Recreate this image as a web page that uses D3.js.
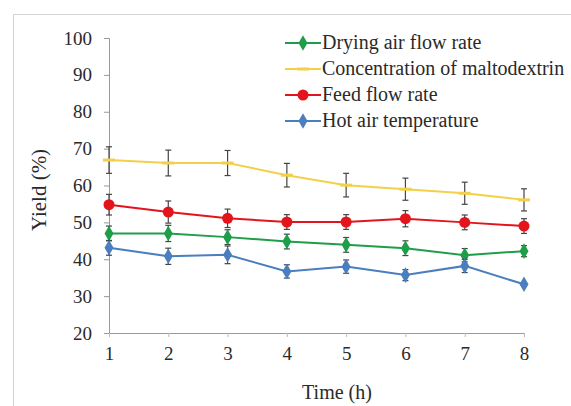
<!DOCTYPE html>
<head>
	<script src="https://d3js.org/d3.v7.min.js"></script>
</head>
<body style="margin:0">
<svg></svg>
<script>
	var hours = [1, 2, 3, 4, 5, 6, 7, 8];
	var yTicks = [20, 30, 40, 50, 60, 70, 80, 90, 100];

	var dryingAir = [47, 47, 46, 44.8, 43.9, 43, 41.1, 42.2];
	var dryingAirErr = [2, 2.2, 2, 2, 2, 2, 1.8, 1.5];
	var maltodextrin = [66.9, 66.1, 66.1, 62.8, 60.1, 59, 57.9, 56.1];
	var maltodextrinErr = [3.6, 3.5, 3.4, 3.2, 3.2, 3, 3, 3];
	var feedFlow = [54.8, 52.8, 51.1, 50.1, 50.1, 51, 50, 49];
	var feedFlowErr = [2.8, 3, 2.5, 2, 2, 2.2, 2, 2];
	var hotAir = [43.1, 40.8, 41.2, 36.7, 38, 35.7, 38.2, 33.2];
	var hotAirErr = [2, 2.2, 2.4, 1.8, 1.8, 1.5, 1.8, 0.5];

	var series = [
		{ name: "Drying air flow rate", values: dryingAir, err: dryingAirErr, color: "#1e9e48", marker: "diamond" },
		{ name: "Concentration of maltodextrin", values: maltodextrin, err: maltodextrinErr, color: "#f2d04a", marker: "dash" },
		{ name: "Feed flow rate", values: feedFlow, err: feedFlowErr, color: "#e3141c", marker: "circle" },
		{ name: "Hot air temperature", values: hotAir, err: hotAirErr, color: "#4a7ebf", marker: "diamond" }
	];

	var width = 571, height = 406;
	var serif = "Liberation Serif";
	var ink = "#2a2a2a";
	var svg = d3.select("svg").attr("width", width).attr("height", height)
		.attr("font-family", serif);

	// outer frame
	svg.append("rect")
		.attr("x", 13.5).attr("y", 14.5)
		.attr("width", 620).attr("height", 500)
		.attr("fill", "none").attr("stroke", "#d4d4d4");

	var xScale = d3.scaleLinear().domain([1, 8]).range([109, 524]);
	var yScale = d3.scaleLinear().domain([20, 100]).range([333, 38]);

	var yAxis = d3.axisLeft(yScale).tickValues(yTicks).tickSize(5).tickPadding(12);
	var gy = svg.append("g").attr("transform", "translate(109,0)").call(yAxis)
		.attr("font-family", serif).attr("font-size", 19);
	gy.select(".domain").attr("stroke", "#999");
	gy.selectAll(".tick line").attr("stroke", "#999");
	gy.selectAll("text").style("font-family", serif).attr("fill", ink);

	var xAxis = d3.axisBottom(xScale).tickValues(hours).tickFormat(d3.format("d"))
		.tickSize(4).tickPadding(10).tickSizeOuter(0);
	var gx = svg.append("g").attr("transform", "translate(0,333)").call(xAxis)
		.attr("font-family", serif).attr("font-size", 19);
	gx.select(".domain").attr("stroke", "#999");
	gx.selectAll(".tick line").attr("stroke", "#bbb");
	gx.selectAll("text").style("font-family", serif).attr("fill", ink);

	svg.append("text")
		.attr("x", 337).attr("y", 399)
		.attr("text-anchor", "middle")
		.style("font-family", serif).attr("font-size", 20).attr("fill", ink)
		.text("Time (h)");

	svg.append("text")
		.attr("transform", "translate(46,190) rotate(-90)")
		.attr("text-anchor", "middle")
		.style("font-family", serif).attr("font-size", 21).attr("fill", ink)
		.text("Yield (%)");

	var line = d3.line()
		.x(function(d, i) { return xScale(hours[i]); })
		.y(function(d) { return yScale(d); });

	function drawMarker(g, type, color) {
		if (type === "diamond") {
			g.append("path").attr("d", d3.symbol(d3.symbolDiamond, 70)()).attr("fill", color);
		} else if (type === "circle") {
			g.append("circle").attr("r", 5.5).attr("fill", color);
		} else {
			g.append("rect").attr("x", -6).attr("y", -1.5).attr("width", 12).attr("height", 3).attr("fill", color);
		}
	}

	series.forEach(function(s) {
		var g = svg.append("g");
		g.append("path")
			.datum(s.values)
			.attr("d", line)
			.attr("fill", "none")
			.attr("stroke", s.color)
			.attr("stroke-width", 2);

		// error bars
		s.values.forEach(function(v, i) {
			var x = xScale(hours[i]);
			var y0 = yScale(v - s.err[i]), y1 = yScale(v + s.err[i]);
			g.append("line").attr("x1", x).attr("x2", x).attr("y1", y0).attr("y2", y1)
				.attr("stroke", "#444").attr("stroke-width", 1.2);
			g.append("line").attr("x1", x - 3).attr("x2", x + 3).attr("y1", y0).attr("y2", y0)
				.attr("stroke", "#444").attr("stroke-width", 1.2);
			g.append("line").attr("x1", x - 3).attr("x2", x + 3).attr("y1", y1).attr("y2", y1)
				.attr("stroke", "#444").attr("stroke-width", 1.2);
		});

		s.values.forEach(function(v, i) {
			var m = g.append("g").attr("transform", "translate(" + xScale(hours[i]) + "," + yScale(v) + ")");
			drawMarker(m, s.marker, s.color);
		});
	});

	// legend
	var legend = svg.append("g").attr("transform", "translate(285,43)");
	series.forEach(function(s, i) {
		var row = legend.append("g").attr("transform", "translate(0," + (i * 26) + ")");
		row.append("line").attr("x1", 0).attr("x2", 36).attr("stroke", s.color).attr("stroke-width", 2);
		drawMarker(row.append("g").attr("transform", "translate(18,0)"), s.marker, s.color);
		row.append("text").attr("x", 37).attr("y", 6)
			.style("font-family", serif).attr("font-size", 20).attr("fill", ink)
			.text(s.name);
	});
</script>
</body>
</html>
